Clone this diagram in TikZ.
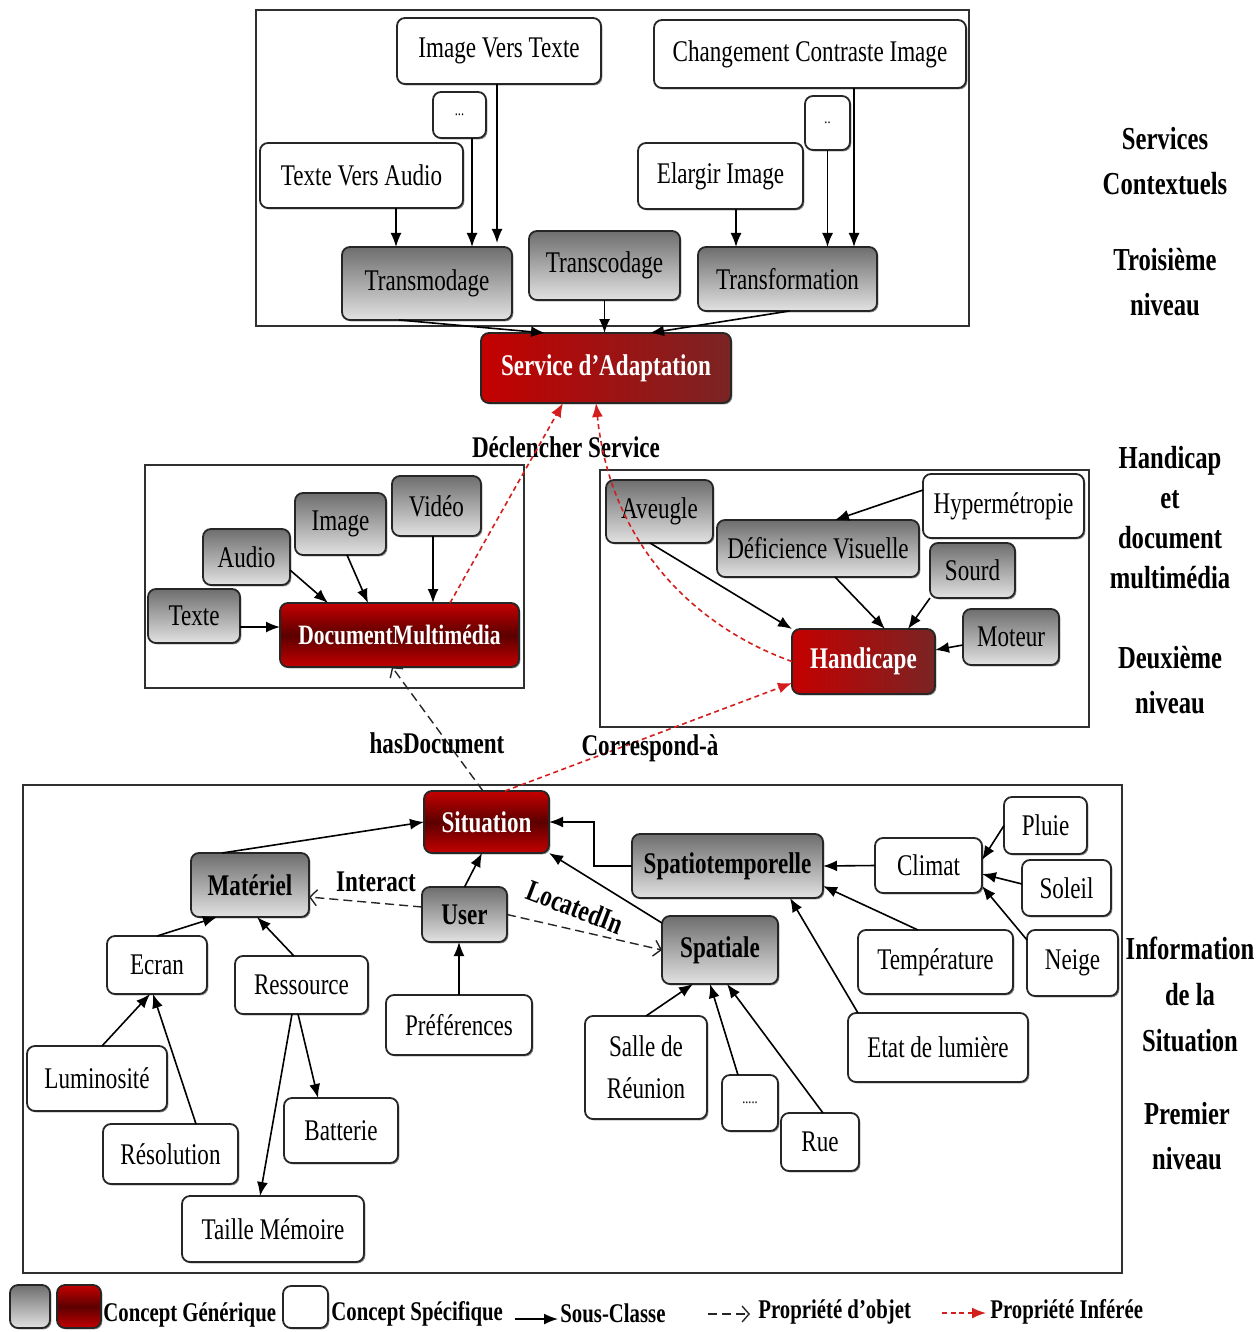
\documentclass[tikz,border=0pt]{standalone}
\usepackage{fontspec}
\setmainfont{Liberation Serif}[FakeStretch=0.77]
\usetikzlibrary{arrows.meta,shadows}
\definecolor{gTop}{HTML}{6E6E6E}
\definecolor{gBot}{HTML}{E2E2E2}
\definecolor{rA}{HTML}{C40000}
\definecolor{rB}{HTML}{7A2424}
\definecolor{rC}{HTML}{5C0000}
\definecolor{infRed}{HTML}{D41E1E}
\definecolor{frameC}{HTML}{303030}

% box from its corner coordinates (x1,y1,x2,y2)
\newcommand\bx[7]{\node[#6, minimum width={(#4-#2)*0.5pt}, minimum height={(#5-#3)*0.5pt}] (#1) at ({(#2+#4)/2},{(#3+#5)/2}) {#7};}

\tikzset{
  box/.style={draw=black!85, line width=0.9pt, rounded corners=4pt, inner sep=1pt, outer sep=0pt,
    font=\fontsize{15}{18}\selectfont,
    drop shadow={shadow xshift=0.7pt, shadow yshift=-0.7pt, fill=black, opacity=0.45}},
  spec/.style={box, fill=white},
  gen/.style={box, top color=gTop, bottom color=gBot},
  genb/.style={gen, font=\bfseries\fontsize{15}{18}\selectfont},
  redg/.style={box, left color=rA, right color=rB, text=white, font=\bfseries\fontsize{15}{18}\selectfont},
  redm/.style={box, top color=rA, bottom color=rA, middle color=rC, text=white, font=\bfseries\fontsize{15}{18}\selectfont},
  dots/.style={spec, font=\fontsize{8}{9}\selectfont},
  sub/.style={-{Latex[length=7pt,width=5.5pt]}, line width=0.8pt, black},
  obj/.style={dash pattern=on 4.5pt off 2.5pt, -{Straight Barb[length=3.5pt,width=8pt]}, line width=0.7pt, black!85},
  inf/.style={infRed, dash pattern=on 2.5pt off 1.8pt, -{Latex[length=7pt,width=5.5pt]}, line width=0.8pt},
  lbl/.style={font=\bfseries\fontsize{15}{18}\selectfont, inner sep=0pt},
  side/.style={font=\bfseries\fontsize{16}{22.5}\selectfont, align=center, inner sep=0pt},
  leg/.style={font=\bfseries\fontsize{13.5}{16}\selectfont, inner sep=0pt},
  frame/.style={draw=frameC, line width=0.8pt}
}

\begin{document}
\begin{tikzpicture}[x=0.5pt,y=-0.5pt]
\useasboundingbox (0,0) rectangle (1258,1332);

% ---------------- third level: contextual services
\draw[frame] (256,10) rectangle (969,326);
\bx{ivt}{397}{18}{601}{84}{spec}{Image Vers Texte}
\bx{cci}{654}{20}{966}{88}{spec}{Changement Contraste Image}
\bx{dA}{433}{92}{486}{138}{dots}{...}
\bx{dB}{805}{96}{850}{150}{dots}{..}
\bx{tva}{260}{143}{463}{208}{spec}{Texte Vers Audio}
\bx{eli}{638}{143}{803}{209}{spec}{Elargir Image}
\bx{tmod}{342}{247}{512}{320}{gen}{Transmodage}
\bx{tcod}{529}{231}{680}{300}{gen}{Transcodage}
\bx{tfor}{698}{247}{877}{311}{gen}{Transformation}
\bx{serv}{481}{333}{731}{403}{redg}{Service d’Adaptation}

\draw[sub] ([xshift=17.25pt]tva.south) coordinate (s1) -- (s1 |- tmod.north);
\draw[sub] ([xshift=6.25pt]dA.south) coordinate (s2) -- (s2 |- tmod.north);
\draw[sub] ([xshift=-1pt]ivt.south) coordinate (s3) -- ([yshift=2pt]s3 |- tmod.north);
\draw[sub] ([xshift=7.75pt]eli.south) coordinate (s4) -- (s4 |- tfor.north);
\draw[sub] (dB.south) coordinate (s5) -- (s5 |- tfor.north);
\draw[sub] ([xshift=22pt]cci.south) coordinate (s6) -- (s6 |- tfor.north);
\draw[sub] ([xshift=-14pt]tmod.south) -- ([xshift=-30.5pt]serv.north);
\draw[sub] (tcod.south) coordinate (s7) -- (s7 |- serv.north);
\draw[sub] ([xshift=1pt]tfor.south) -- ([xshift=22pt]serv.north);

\node[lbl] (lDecl) at (566,447) {Déclencher Service};

% ---------------- second level: multimedia document
\draw[frame] (145,465) rectangle (524,688);
\bx{vid}{392}{476}{481}{536}{gen}{Vidéo}
\bx{img}{295}{493}{386}{555}{gen}{Image}
\bx{aud}{203}{529}{290}{585}{gen}{Audio}
\bx{txt}{148}{589}{240}{643}{gen}{Texte}
\bx{dmm}{280}{603}{519}{667}{redm,font=\bfseries\fontsize{14}{17}\selectfont}{DocumentMultimédia}

\draw[sub] ([yshift=-5.5pt]txt.east) coordinate (s8) -- (s8 -| dmm.west);
\draw[sub] ([yshift=-6.5pt]aud.east) -- ([xshift=-35.75pt]dmm.north);
\draw[sub] ([xshift=3.25pt]img.south) -- ([xshift=-15.75pt]dmm.north);
\draw[sub] ([xshift=-1.75pt]vid.south) coordinate (s9) -- (s9 |- dmm.north);

% ---------------- second level: handicap
\draw[frame] (600,470) rectangle (1089,727);
\bx{ave}{606}{480}{713}{543}{gen}{Aveugle}
\bx{hyp}{923}{474}{1084}{538}{spec}{Hypermétropie}
\bx{dfv}{717}{520}{919}{577}{gen}{Déficience Visuelle}
\bx{srd}{930}{543}{1015}{598}{gen}{Sourd}
\bx{mot}{963}{609}{1059}{665}{gen}{Moteur}
\bx{hand}{792}{629}{935}{694}{redg}{Handicape}

\draw[sub] ([yshift=8pt]hyp.west) -- ([xshift=8.5pt]dfv.north);
\draw[sub] ([xshift=-4.75pt]ave.south) -- (hand.north west);
\draw[sub] ([xshift=8.5pt]dfv.south) -- ([xshift=10.75pt]hand.north);
\draw[sub] (srd.south west) -- ([xshift=22.25pt]hand.north);
\draw[sub] ([yshift=-4pt]mot.west) -- ([yshift=5.75pt]hand.east);

% inferred links towards the adaptation service
\draw[inf] ([xshift=25.25pt]dmm.north) -- ([xshift=-21.5pt]serv.south);
\draw[inf] (hand.west) .. controls (690,625) and (610,540) .. ([xshift=-5pt]serv.south);

% ---------------- first level: situation
\draw[frame] (23,785) rectangle (1122,1273);
\bx{situ}{424}{791}{549}{853}{redm}{Situation}
\bx{mat}{191}{853}{309}{917}{genb}{Matériel}
\bx{user}{422}{887}{507}{942}{genb}{User}
\bx{spt}{632}{834}{823}{898}{genb}{Spatiotemporelle}
\bx{spa}{662}{916}{778}{984}{genb}{Spatiale}
\bx{cli}{875}{838}{982}{893}{spec}{Climat}
\bx{plu}{1004}{797}{1087}{854}{spec}{Pluie}
\bx{sol}{1022}{860}{1111}{916}{spec}{Soleil}
\bx{nei}{1027}{930}{1118}{996}{spec}{Neige}
\bx{tem}{858}{930}{1013}{994}{spec}{Température}
\bx{etl}{848}{1013}{1028}{1082}{spec}{Etat de lumière}
\bx{ecr}{107}{936}{207}{994}{spec}{Ecran}
\bx{res}{235}{956}{368}{1014}{spec}{Ressource}
\bx{pre}{386}{995}{532}{1055}{spec}{Préférences}
\bx{lum}{27}{1046}{167}{1111}{spec}{Luminosité}
\bx{reso}{103}{1124}{238}{1184}{spec}{Résolution}
\bx{bat}{284}{1098}{398}{1163}{spec}{Batterie}
\bx{tm}{182}{1196}{364}{1262}{spec}{Taille Mémoire}
\bx{sdr}{585}{1016}{707}{1119}{spec,align=center,font=\fontsize{15}{21}\selectfont}{Salle de\\Réunion}
\bx{dC}{722}{1075}{778}{1131}{dots}{.....}
\bx{rue}{781}{1113}{859}{1171}{spec}{Rue}

\draw[sub] ([xshift=-14pt]mat.north) -- (situ.west);
\draw[sub] (user.north) -- ([xshift=-2.25pt]situ.south);
\draw[sub] (spt.west) -- ++(-38,0) |- (situ.east);
\draw[sub] ([yshift=-3.5pt]spa.north west) -- (situ.south east);
\draw[sub] (cli.west) -- (spt.east);
\draw[sub] ([xshift=-8.75pt]tem.north) -- ([yshift=-10pt]spt.east);
\draw[sub] ([xshift=5pt]etl.north west) -- ([xshift=31.25pt]spt.south);
\draw[sub] (plu.west) -- ([yshift=2.75pt]cli.east);
\draw[sub] ([yshift=2pt]sol.west) -- ([yshift=-4.25pt]cli.east);
\draw[sub] ([yshift=-5pt]nei.north west) -- ([yshift=3.5pt]cli.south east);
\draw[sub] (sdr.north) -- ([xshift=-13.5pt]spa.south);
\draw[sub] ([xshift=-6pt]dC.north) -- ([xshift=-5pt]spa.south);
\draw[sub] ([xshift=1.5pt]rue.north) -- ([xshift=3.5pt]spa.south);
\draw[sub] (ecr.north) -- ([xshift=-16.5pt]mat.south);
\draw[sub] ([xshift=-3.75pt]res.north) -- ([xshift=3.5pt]mat.south);
\draw[sub] ([xshift=2.5pt]lum.north) -- ([xshift=-3.5pt]ecr.south);
\draw[sub] ([xshift=12.75pt]reso.north) -- ([xshift=-2pt]ecr.south);
\draw[sub] ([xshift=-1.75pt]res.south) -- ([xshift=-11.5pt]bat.north);
\draw[sub] ([xshift=-4.75pt]res.south) -- ([xshift=-6.5pt]tm.north);
\draw[sub] (pre.north) coordinate (s10) -- (s10 |- user.south);

% object properties
\draw[obj] ([yshift=3.75pt]user.west) -- ([yshift=-6pt]mat.east);
\draw[obj] (user.east) -- (spa.west);
\draw[obj] ([xshift=-1.75pt]situ.north) -- ([xshift=-3.75pt]dmm.south);
\draw[inf] ([xshift=9.25pt]situ.north) -- ([yshift=-10.75pt]hand.west);

\node[lbl] (lInt) at (376,882) {Interact};
\node[lbl, rotate=-21] (lLoc) at (575,907) {LocatedIn};
\node[lbl] (lHas) at (437,743) {hasDocument};
\node[lbl] (lCor) at (650,748) {Correspond-à};

% ---------------- level captions
\node[side] (cSvc) at (1165,161) {Services\\Contextuels};
\node[side] (cL3) at (1165,282) {Troisième\\niveau};
\node[side, font=\bfseries\fontsize{16}{20}\selectfont] (cHd) at (1170,518) {Handicap\\et\\document\\multimédia};
\node[side] (cL2) at (1170,680) {Deuxième\\niveau};
\node[side, font=\bfseries\fontsize{16}{23}\selectfont] (cInf) at (1190,994) {Information\\de la\\Situation};
\node[side] (cL1) at (1187,1136) {Premier\\niveau};

% ---------------- legend
\bx{lgG}{10}{1285}{50}{1328}{gen}{}
\bx{lgR}{57}{1285}{101}{1328}{redm}{}
\node[leg, anchor=base west] (lgT1) at (103,1321) {Concept Générique};
\bx{lgW}{283}{1286}{328}{1328}{spec}{}
\node[leg, anchor=base west] (lgT2) at (331,1320) {Concept Spécifique};
\coordinate (lgA1) at (515,1319);
\coordinate (lgA2) at (558,1319);
\draw[sub] (lgA1) -- (lgA2);
\node[leg, anchor=base west] (lgT3) at (560,1322) {Sous-Classe};
\coordinate (lgB1) at (708,1314);
\coordinate (lgB2) at (750,1314);
\draw[obj] (lgB1) -- (lgB2);
\node[leg, anchor=base west] (lgT4) at (758,1318) {Propriété d’objet};
\coordinate (lgC1) at (942,1313);
\coordinate (lgC2) at (986,1313);
\draw[inf] (lgC1) -- (lgC2);
\node[leg, anchor=base west] (lgT5) at (990,1318) {Propriété Inférée};
\end{tikzpicture}
\end{document}
